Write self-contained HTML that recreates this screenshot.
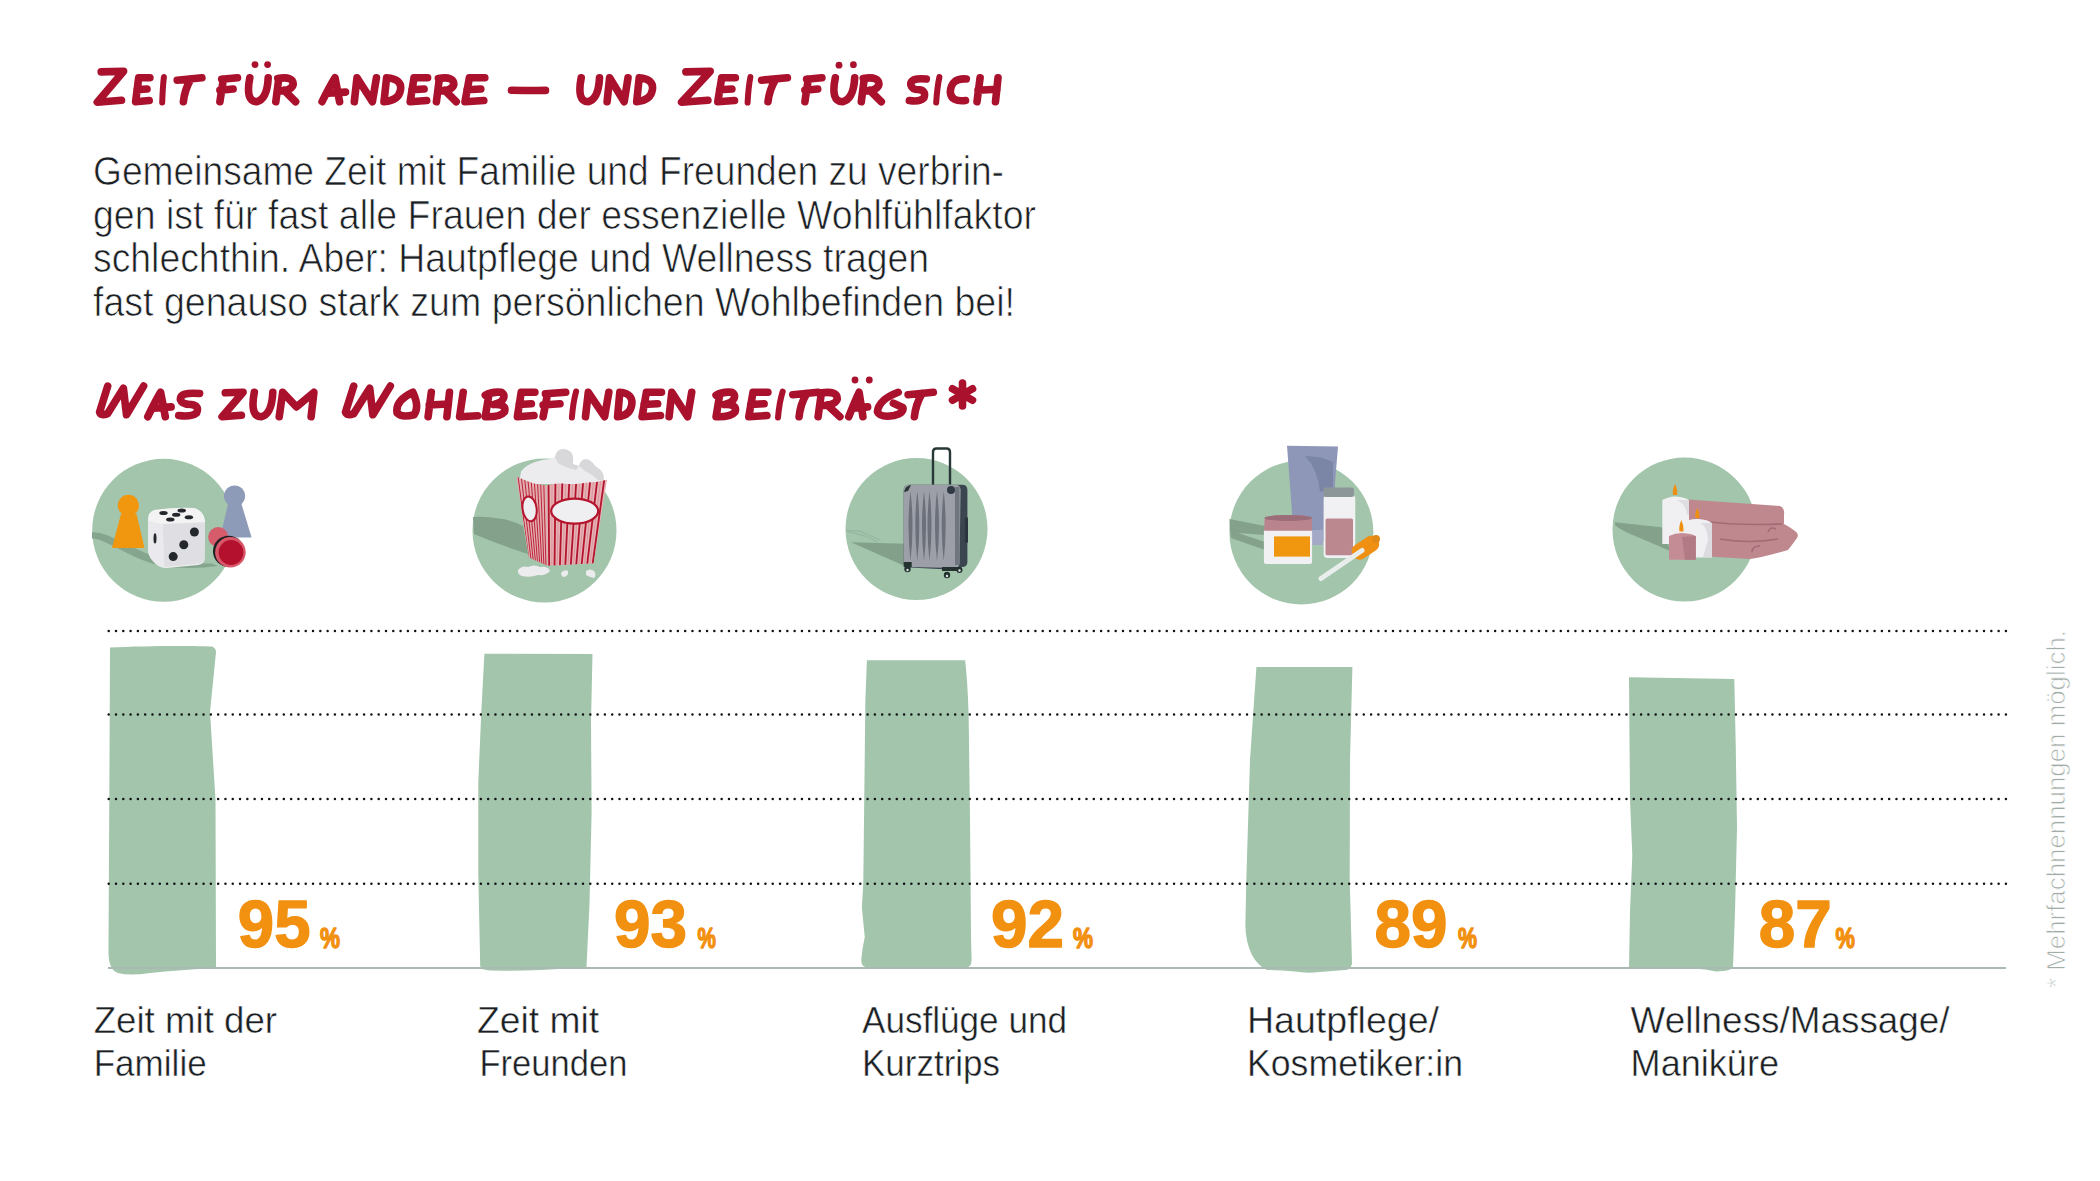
<!DOCTYPE html>
<html><head><meta charset="utf-8">
<style>
html,body{margin:0;padding:0;background:#fff;width:2100px;height:1181px;overflow:hidden}
svg{display:block}
.h{font-family:"Liberation Sans",sans-serif;font-weight:bold;font-style:italic;fill:#a9112d;stroke:#a9112d;stroke-width:2;stroke-linejoin:round}
.b{font-family:"Liberation Sans",sans-serif;font-size:40px;fill:#1b1f24;stroke:#fff;stroke-width:0.72}
.l{font-family:"Liberation Sans",sans-serif;font-size:36px;fill:#1b1f24;stroke:#fff;stroke-width:0.45}
.p{font-family:"Liberation Sans",sans-serif;font-weight:bold;fill:#f29010;stroke:#f29010;stroke-width:1.4;stroke-linejoin:round}
</style></head>
<body>
<svg width="2100" height="1181" viewBox="0 0 2100 1181">
<rect width="2100" height="1181" fill="#fff"/>

<!-- Heading 1 -->
<g id="heads">
<g fill="none" stroke="#a9112d" stroke-width="7.6" stroke-linecap="round" stroke-linejoin="round">
<path d="M 101.2,71.9 L 123.6,71.3 L 97.3,102.2 L 121.5,100.3 M 138.7,77.8 L 135.6,101.7 M 138.7,77.8 L 149.9,77.8 M 137.0,89.8 L 147.0,89.0 M 135.6,101.7 L 149.2,100.5 M 177.2,80.2 L 201.9,77.8 M 190.8,79.0 Q 184.6,89.8 183.4,101.7 M 221.7,79.2 L 237.5,77.8 M 223.4,79.2 L 219.9,101.7 M 219.9,90.2 L 233.1,89.0 M 249.8,77.8 Q 245.2,101.7 256.7,101.7 Q 267.2,99.3 268.2,77.8 M 278.8,78.3 L 275.8,101.7 M 277.8,78.5 Q 293.6,75.9 293.2,84.5 Q 291.6,90.9 277.8,90.9 M 284.1,90.2 L 295.6,101.7 M 322.1,101.7 Q 329.1,87.4 335.0,77.8 Q 337.3,89.8 339.6,101.7 M 328.0,93.3 L 345.5,92.1 M 354.3,101.7 L 357.0,77.8 L 372.4,101.7 L 376.4,77.8 M 386.6,77.8 L 384.0,101.7 M 386.6,77.8 Q 402.3,79.0 400.5,89.8 Q 398.8,100.5 384.0,101.7 M 414.0,77.8 L 410.2,101.7 M 414.0,77.8 L 427.6,77.8 M 411.9,89.8 L 424.1,89.0 M 410.2,101.7 L 426.7,100.5 M 439.4,78.3 L 436.4,101.7 M 438.4,78.5 Q 454.2,75.9 453.8,84.5 Q 452.2,90.9 438.4,90.9 M 444.7,90.2 L 456.2,101.7 M 469.4,77.8 L 465.0,101.7 M 469.4,77.8 L 484.8,77.8 M 467.0,89.8 L 480.8,89.0 M 465.0,101.7 L 483.8,100.5 M 511.4,90.2 Q 528.5,90.5 545.5,90.4 M 581.2,77.8 Q 576.6,101.7 588.1,101.7 Q 598.5,99.3 599.5,77.8 M 607.1,101.7 L 609.6,77.8 L 624.2,101.7 L 628.0,77.8 M 639.2,77.8 L 636.7,101.7 M 639.2,77.8 Q 654.0,79.0 652.4,89.8 Q 650.7,100.5 636.7,101.7 M 685.9,71.9 L 710.2,71.3 L 681.6,102.2 L 707.9,100.3 M 721.7,77.8 L 717.8,101.7 M 721.7,77.8 L 735.4,77.8 M 719.6,89.8 L 731.9,89.0 M 717.8,101.7 L 734.5,100.5 M 761.6,80.2 L 787.4,77.8 M 775.8,79.0 Q 769.3,89.8 768.0,101.7 M 806.6,79.2 L 821.9,77.8 M 808.3,79.2 L 804.9,101.7 M 804.9,90.2 L 817.7,89.0 M 835.3,77.8 Q 830.4,101.7 842.5,101.7 Q 853.6,99.3 854.7,77.8 M 864.3,78.3 L 861.3,101.7 M 863.3,78.5 Q 879.3,75.9 878.9,84.5 Q 877.3,90.9 863.3,90.9 M 869.7,90.2 L 881.3,101.7 M 926.3,79.0 Q 910.2,77.3 910.8,85.0 Q 911.9,89.8 919.5,89.8 Q 926.6,90.9 923.8,98.1 Q 919.5,102.2 909.4,100.5 M 966.3,79.0 Q 951.1,77.8 950.3,92.1 Q 951.1,102.2 965.5,100.5 M 980.1,77.8 L 977.0,101.7 M 998.0,77.8 L 995.5,101.7 M 978.0,90.2 L 997.0,89.3 "/>
<path d="M 107.7,386.1 L 99.6,412.1 Q 100.9,416.3 107.7,413.6 L 123.4,388.2 L 126.5,414.8 L 143.6,386.1 M 147.8,416.7 Q 154.8,402.1 160.6,392.3 Q 162.9,404.5 165.3,416.7 M 153.6,408.2 L 171.1,406.9 M 199.6,393.5 Q 179.7,391.8 180.4,399.6 Q 181.8,404.5 191.2,404.5 Q 200.0,405.7 196.5,413.0 Q 191.2,417.2 178.7,415.5 M 225.3,392.8 L 243.1,392.3 L 222.1,416.7 L 241.4,415.2 M 254.3,392.3 Q 249.7,416.7 261.2,416.7 Q 271.8,414.3 272.8,392.3 M 279.2,416.7 L 282.7,392.3 L 296.5,406.9 L 313.9,392.3 L 311.1,416.7 M 353.7,386.1 L 345.5,412.1 Q 346.9,416.3 353.7,413.6 L 369.7,388.2 L 372.9,414.8 L 390.3,386.1 M 412.9,392.3 Q 394.9,400.8 397.1,413.0 Q 401.6,417.9 414.1,414.7 Q 419.7,406.9 412.9,392.3 Z M 431.3,392.3 L 428.1,416.7 M 449.5,392.3 L 446.9,416.7 M 429.2,405.0 L 448.4,404.0 M 463.2,392.3 L 459.6,416.7 L 477.7,415.7 M 489.1,393.5 L 485.3,416.7 M 485.3,395.2 Q 491.7,391.3 501.3,392.3 Q 507.0,396.0 500.6,402.1 L 493.8,404.5 M 493.8,404.5 Q 507.0,404.0 504.5,411.8 Q 500.2,417.2 485.3,416.7 M 521.2,392.3 L 517.4,416.7 M 521.2,392.3 L 534.9,392.3 M 519.1,404.5 L 531.4,403.8 M 517.4,416.7 L 534.0,415.5 M 545.4,393.8 L 565.7,392.3 M 547.6,393.8 L 543.1,416.7 M 543.1,405.0 L 560.0,403.8 M 585.5,416.7 L 588.3,392.3 L 604.6,416.7 L 608.8,392.3 M 619.8,392.3 L 617.6,416.7 M 619.8,392.3 Q 633.2,393.5 631.8,404.5 Q 630.3,415.5 617.6,416.7 M 646.4,392.3 L 642.1,416.7 M 646.4,392.3 L 661.5,392.3 M 644.0,404.5 L 657.6,403.8 M 642.1,416.7 L 660.5,415.5 M 669.1,416.7 L 671.8,392.3 L 687.6,416.7 L 691.7,392.3 M 719.9,393.5 L 716.1,416.7 M 716.1,395.2 Q 722.4,391.3 731.9,392.3 Q 737.6,396.0 731.3,402.1 L 724.5,404.5 M 724.5,404.5 Q 737.6,404.0 735.1,411.8 Q 730.9,417.2 716.1,416.7 M 753.0,392.3 L 748.8,416.7 M 753.0,392.3 L 767.9,392.3 M 750.7,404.5 L 764.1,403.8 M 748.8,416.7 L 766.9,415.5 M 792.8,394.7 L 817.9,392.3 M 806.6,393.5 Q 800.3,404.5 799.1,416.7 M 821.4,392.8 L 818.1,416.7 M 820.3,393.0 Q 837.7,390.3 837.3,399.1 Q 835.5,405.7 820.3,405.7 M 827.3,405.0 L 839.9,416.7 M 848.8,416.7 Q 854.4,402.1 859.1,392.3 Q 861.0,404.5 862.9,416.7 M 853.5,408.2 L 867.6,406.9 M 898.2,392.3 Q 878.7,399.6 877.4,411.8 Q 880.1,417.9 894.0,415.5 Q 904.6,413.0 902.8,407.4 L 893.4,403.3 M 908.1,394.7 L 933.3,392.3 M 922.0,393.5 Q 915.7,404.5 914.4,416.7 "/>
<path d="M962.5,383.0 L962.5,406.0 M952.5,388.8 L972.5,400.2 M952.5,400.2 L972.5,388.8 "/>
<path stroke-width="6.0" d="M 163.9,77.0 Q 162.7,87.2 162.2,102.5 M 750.4,77.0 Q 748.4,87.2 747.6,102.5 M 939.4,77.0 Q 937.2,87.2 936.2,102.5  M 576.1,391.5 Q 573.2,401.9 571.9,417.5 M 782.7,391.5 Q 779.4,401.9 778.0,417.5 "/>
</g>
<g fill="#a9112d"><circle cx="839" cy="65.2" r="3.4"/><circle cx="853.4" cy="64.7" r="3.4"/><circle cx="255" cy="64.6" r="3.4"/><circle cx="267.6" cy="64.6" r="3.4"/><circle cx="855" cy="380" r="3.4"/><circle cx="869.3" cy="380" r="3.4"/></g>
</g>

<!-- Body -->
<text class="b" x="93" y="185" textLength="911" lengthAdjust="spacingAndGlyphs">Gemeinsame Zeit mit Familie und Freunden zu verbrin-</text>
<text class="b" x="93" y="228.5" textLength="943" lengthAdjust="spacingAndGlyphs">gen ist für fast alle Frauen der essenzielle Wohlfühlfaktor</text>
<text class="b" x="93" y="272" textLength="836" lengthAdjust="spacingAndGlyphs">schlechthin. Aber: Hautpflege und Wellness tragen</text>
<text class="b" x="93" y="316" textLength="922" lengthAdjust="spacingAndGlyphs">fast genauso stark zum persönlichen Wohlbefinden bei!</text>

<!-- Heading 2 -->


<!-- ICONS -->
<g id="icons">
<!-- ICON 1: board game -->
<circle cx="163.7" cy="530.3" r="71.5" fill="#a2c5ac"/>
<path d="M92,532 Q100,532 108,535.5 Q120,541 130,546 Q145,553 160,559 Q190,564 212,563.5 L218,566 Q190,570 160,566 Q140,560 125,552 Q112,545 100,540 Q95,538.5 92,538.5 Z" fill="#86a58e"/>
<path d="M121,514 L136.5,514 L144.5,548 L112,548 Z" fill="#f1960f"/>
<circle cx="128.4" cy="505.4" r="10.6" fill="#f1960f"/>
<path d="M228,504 L241.5,504 L251.6,537.6 L220.2,537.6 Z" fill="#8e9bb8"/>
<circle cx="234.6" cy="496" r="10.6" fill="#8e9bb8"/>
<!-- dice -->
<path d="M148,520 Q148,512 154,510 Q175,507 194,508 Q203,510 205,520 L204.5,560 Q204,564 198,565 L166,568 Q158,568 152,560 Q148,556 148,548 Z" fill="#f3f3f4"/>
<path d="M148,521 L162.6,524 L164.4,567.2 Q156,566 151,558 Q148,553 148,545 Z" fill="#eaeaee"/>
<path d="M162.6,524 L205,522.3 L204.5,559 Q204,563 198,564 L164.4,567.2 Z" fill="#dedee3"/>
<g fill="#24282c">
<ellipse cx="163.5" cy="513" rx="4.2" ry="2"/>
<ellipse cx="181.7" cy="510.5" rx="4.2" ry="2"/>
<ellipse cx="176.2" cy="514.7" rx="4.2" ry="2"/>
<ellipse cx="170.3" cy="519.4" rx="4.2" ry="2"/>
<ellipse cx="188.9" cy="517.3" rx="4.2" ry="2"/>
<ellipse cx="155" cy="538.4" rx="1.5" ry="5.2"/>
<circle cx="194.4" cy="532" r="4.5"/>
<circle cx="183.8" cy="544.8" r="4.5"/>
<circle cx="173.2" cy="556.6" r="4.5"/>
</g>
<!-- checker -->
<circle cx="218.2" cy="537" r="10" fill="#d65b6b"/>
<circle cx="228.6" cy="551.3" r="15.6" fill="#1e1e22"/>
<circle cx="230.4" cy="552.3" r="15.3" fill="#d8586a"/>
<circle cx="231" cy="552.5" r="12.4" fill="#b3112e"/>

<!-- ICON 2: popcorn -->
<circle cx="544.5" cy="530.6" r="72" fill="#a2c5ac"/>
<path d="M473,517 Q485,516 499,518.5 Q512,520 523,526 L528,554 Q500,545 474,534 Z" fill="#84a28b"/>
<path d="M519,484 L521,471.4 Q526,465 535,462 Q543,459 551,458.9 L556,455.7 L560.3,449.4 Q566,449 571.8,453 L572.9,464 L579,466 L582.3,460 Q585,458.5 588.6,459.4 L596,467.2 L603,474 L605,484 Z" fill="#ececee"/>
<path d="M555,457 Q556,451 560.3,449.4 Q567,448 571.8,453 Q574,458 572.9,464 Q576,465 579,466 L576,470 Q566,468 558,463 Z" fill="#d8d8db"/>
<path d="M579,466 Q580,461 584,459.5 Q589,458.5 592,462 Q595,466 598,468 Q603,471 603.5,476 L604,481 L598,480 Q592,474 585,471 Z" fill="#d8d8db"/>
<defs>
<clipPath id="pcL"><path d="M516.3,476.7 L533.6,483.5 L546.2,485.6 L547.4,565.7 L529,557.4 Z"/></clipPath>
<clipPath id="pcF"><path d="M546.2,485.6 Q554,483 562.4,483.5 Q571,484.5 580.7,483.5 Q588,482 596.4,482 L607,479.8 L593.7,563.3 L547.4,565.7 Z"/></clipPath>
</defs>
<path d="M516.3,476.7 L533.6,483.5 L546.2,485.6 L547.4,565.7 L529,557.4 Z" fill="#e2adb1"/>
<path d="M546.2,485.6 Q554,483 562.4,483.5 Q571,484.5 580.7,483.5 Q588,482 596.4,482 L607,479.8 L593.7,563.3 L547.4,565.7 Z" fill="#e5b2b5"/>
<g stroke="#bc2437" stroke-width="1.0" fill="none" clip-path="url(#pcL)"><path d="M518.0,476 L530.0,568"/><path d="M521.2,476 L532.0,568"/><path d="M524.4,476 L534.0,568"/><path d="M527.6,476 L536.0,568"/><path d="M530.8,476 L538.0,568"/><path d="M534.0,476 L540.0,568"/><path d="M537.2,476 L542.0,568"/><path d="M540.4,476 L544.0,568"/><path d="M543.6,476 L546.0,568"/></g>
<g fill="none" clip-path="url(#pcF)">
<g stroke="#d68a90" stroke-width="0.7"><path d="M552.0,478 L551.8,570"/><path d="M559.0,478 L557.1,570"/><path d="M566.0,478 L562.5,570"/><path d="M573.0,478 L567.8,570"/><path d="M580.0,478 L573.1,570"/><path d="M587.0,478 L578.5,570"/><path d="M594.0,478 L583.8,570"/><path d="M601.0,478 L589.1,570"/></g>
<g stroke="#b3132c" stroke-width="1.8"><path d="M548.5,478 L549.2,570"/><path d="M555.5,478 L554.5,570"/><path d="M562.5,478 L559.8,570"/><path d="M569.5,478 L565.1,570"/><path d="M576.5,478 L570.5,570"/><path d="M583.5,478 L575.8,570"/><path d="M590.5,478 L581.1,570"/><path d="M597.5,478 L586.5,570"/><path d="M604.5,478 L591.8,570"/></g>
</g>
<ellipse cx="574.7" cy="511.1" rx="23.5" ry="12.5" fill="#efeff1" stroke="#b5142d" stroke-width="2.2"/>
<ellipse cx="529.6" cy="508.8" rx="7" ry="12.5" fill="#efeff1" stroke="#b5142d" stroke-width="2" transform="rotate(-8 529.6 508.8)"/>
<g fill="#ececef">
<path d="M518,570 Q522,565 528,567 Q534,564 540,567 Q548,566 550,571 Q546,576 538,575 Q530,578 522,576 Q517,574 518,570 Z"/>
<path d="M561,573 Q564,569 568,571 Q569,576 564,577 Q561,576 561,573 Z"/>
<path d="M586,571 Q590,568 594,571 Q597,575 594,578 Q589,577 586,575 Z"/>
</g>

<!-- ICON 3: suitcase -->
<circle cx="916.5" cy="529" r="71" fill="#a2c5ac"/>
<path d="M851,542.3 L904.6,543.8 L904.6,566 Z" fill="#83a18a"/>
<path d="M846,530.7 L860,531 L880.3,540.2 M848,531.5 L865,536 L878,542" fill="none" stroke="#8fb09b" stroke-width="0.9"/>
<path d="M933,484.7 L933,452 Q933,448.5 936.5,448.5 L946.5,448.5 Q950,448.5 950,452 L950,484.7" fill="none" stroke="#273836" stroke-width="2.4"/>
<path d="M903.7,490 Q903.7,484.7 909,484.7 L962,484.7 Q967.4,484.7 967.4,490 L967.4,562 Q967.4,567 962,567 L959,570 L909,567.4 Q903.7,567.4 903.7,562 Z" fill="#3b4550"/>
<path d="M903.7,490 Q903.7,484.7 909,484.7 L955,484.7 Q960.6,484.7 960.6,490 L959.5,563 Q959.5,568 954,568 L909,567 Q903.7,567 903.7,562 Z" fill="#9c9fa7"/>
<g fill="#6b707b"><path d="M910.5,491 Q914.5,526 910.5,561 Q906.5,526 910.5,491 Z"/><path d="M917.3,491 Q921.3,526 917.3,561 Q913.3,526 917.3,491 Z"/><path d="M924,491 Q928,526 924,561 Q920,526 924,491 Z"/><path d="M929.5,491 Q933.5,526 929.5,561 Q925.5,526 929.5,491 Z"/><path d="M937,491 Q941,526 937,561 Q933,526 937,491 Z"/><path d="M943.7,491 Q947.7,526 943.7,561 Q939.7,526 943.7,491 Z"/></g><rect x="955" y="487" width="4.5" height="78" fill="#70767e"/>
<path d="M904,492 Q905,486 911,485 L908,491 Z" fill="#273836"/>
<circle cx="951" cy="490" r="4" fill="#2f3944"/>
<rect x="965" y="517" width="3" height="26" rx="1.5" fill="#2b3540"/>
<g fill="#243230">
<circle cx="907.5" cy="569" r="3.2"/><circle cx="947" cy="575" r="3.2"/><circle cx="959.5" cy="570" r="3"/>
<rect x="903.7" y="562" width="8" height="5"/><rect x="942" y="567" width="18" height="4"/>
</g>
<g fill="#dfe7e3"><circle cx="907.5" cy="570" r="1.2"/><circle cx="947" cy="576" r="1.2"/><circle cx="959.5" cy="570.5" r="1.2"/></g>

<!-- ICON 4: cosmetics -->
<circle cx="1301.4" cy="532.5" r="72" fill="#a2c5ac"/>
<path d="M1229.4,519 L1265,526 L1265,535 L1238,533 L1265,542 L1265,550 L1231,538 Q1229.5,530 1229.4,519 Z" fill="#84a28b"/>
<path d="M1287,445.8 L1338,446.5 L1335,483 L1336,540 L1292,545 L1292,512 Z" fill="#8e97b8"/>
<path d="M1305,456 Q1322,456 1333,462 L1333,487 L1320,492 Q1318,470 1305,456 Z" fill="#7b86a7"/>
<path d="M1292,530 L1323,530 L1323,545 L1292,545 Z" fill="#a4a9c7"/>
<rect x="1263.9" y="529" width="48.2" height="35" rx="2" fill="#f1f1f3"/>
<rect x="1274" y="536.4" width="36" height="20.2" fill="#f0960f"/>
<path d="M1264.6,519 Q1264.6,515 1288,515 Q1312,515 1312,519 L1312,530.7 L1264.2,530.7 Z" fill="#b9848e"/>
<ellipse cx="1288.2" cy="518" rx="23.8" ry="3" fill="#9a6d79"/>
<rect x="1323.6" y="495" width="31.7" height="63" rx="4" fill="#f1f1f3"/>
<rect x="1325.5" y="518.5" width="27.5" height="36.7" rx="1.5" fill="#bb8890"/>
<rect x="1323.6" y="487.5" width="30.3" height="9.4" rx="2" fill="#8c9698"/>
<rect x="-14" y="-8" width="29" height="16" rx="7" fill="#ef9012" transform="translate(1365,548) rotate(-34)"/>
<circle cx="1376" cy="539" r="4" fill="#e08916"/>
<path d="M1321,578.5 L1362,550.5" stroke="#e9eeec" stroke-width="5" stroke-linecap="round"/>

<!-- ICON 5: candles & towels -->
<circle cx="1684.5" cy="529.6" r="72" fill="#a2c5ac"/>
<path d="M1615,522.3 L1663,527.6 L1670,551 L1640,538 Q1620,530 1615,525 Z" fill="#84a28b"/>
<path d="M1688,499.5 L1780,506 Q1785,508 1784,515 L1784,524 Q1790,527 1795,531 Q1799.5,534 1797,538 Q1792,545 1788,550 Q1760,558 1750,559 L1700,556 L1688,540 Z" fill="#bf888f"/>
<g stroke="#a16c76" stroke-width="1.6" fill="none">
<path d="M1700,521 Q1740,526 1782,524"/>
<path d="M1720,539 Q1750,544 1778,539"/>
<path d="M1768,532 Q1770,526 1776,529"/>
<path d="M1752,552 Q1752,546 1760,546"/>
</g>
<path d="M1662.3,500 Q1670,496 1676,496.5 Q1685,497 1689,500 L1689,544 L1662.3,544 Z" fill="#f0f0f2"/>
<path d="M1676,500 Q1686,503 1687,515 L1689,515 L1689,500 Z" fill="#dedee2"/>
<path d="M1685,522 Q1690,518.5 1698,519 Q1708,519.5 1711.9,523 L1711.9,557.4 L1685,557.4 Z" fill="#f0f0f2"/>
<path d="M1700,523 Q1708,527 1708,540 L1703,557 L1711.9,557.4 L1711.9,523 Z" fill="#dcdce0"/>
<path d="M1669,536 Q1675,533 1682,533 Q1692,533.5 1695.8,536 L1695.8,559.7 L1669,559.7 Z" fill="#c48c94"/>
<path d="M1682,537 L1695.8,536 L1695.8,559.7 L1685,559.7 Z" fill="#b27a85"/>
<g fill="#ef8f12">
<path d="M1675,484 Q1678,490 1677,495 L1673,495 Q1672,490 1675,484 Z"/>
<path d="M1697.4,508 Q1700,513 1699.5,518 L1695.5,518 Q1694.5,513 1697.4,508 Z"/>
<path d="M1681.4,520 Q1684,526 1683.5,531.5 L1679.5,531.5 Q1678.5,526 1681.4,520 Z"/>
</g>
</g>

<!-- Bars -->
<g fill="#a2c5ac">
<path d="M110,647.5 C140,646 190,645.5 212,646.5 Q216,648 216,652 L210,712 L215.5,800 L216,968 Q180,970 150,973 Q130,976 118,973 Q108,970 108.5,950 L109.5,760 Z"/>
<path d="M484.4,653.8 L592.5,654 L591,721 L591.6,813 L589.5,904 L586.5,967 Q570,968.5 540,970 Q513,971 490,970.5 Q481,970 480.2,966 L478.3,873 L478.3,782 L481.3,712 Z"/>
<path d="M866.9,660.2 L965.1,660.2 Q967.5,680 968.6,714 L970,818 L971,936 L971.6,960 Q971.6,968 964,968 L870,968 Q861,968 861.3,960 Q862,950 864.8,937 Q863,920 861.9,907 L863.3,883 L865.4,699 Z"/>
<path d="M1256.4,667 L1352.4,667 L1350,760 L1349.7,880 L1351,926 L1352,964 Q1350,970 1345,970 Q1332,971 1320,972 Q1306,973.5 1295,971.5 Q1280,970 1267,970 Q1258,966 1252,955 Q1245.5,942 1245.4,925 L1246.3,880 L1250,760 Z"/>
<path d="M1629,677.3 L1734.3,679 L1735.7,743.8 L1737,827.6 L1735,911.4 L1733,967 Q1731,971.5 1716,971.4 Q1705,969 1693.8,968.6 L1629,967.5 L1630,911.4 L1632.3,855.5 L1630,799.7 Z"/>
</g>

<!-- Baseline -->
<rect x="108" y="967" width="1898" height="2" fill="#a8bab1"/>

<!-- Dotted lines -->
<g stroke="#111" stroke-width="2.5" stroke-linecap="round" stroke-dasharray="0 7.297">
<line x1="108.7" y1="631" x2="2006.5" y2="631"/>
<line x1="108.7" y1="714.4" x2="2006.5" y2="714.4"/>
<line x1="108.7" y1="799" x2="2006.5" y2="799"/>
<line x1="108.7" y1="883.8" x2="2006.5" y2="883.8"/>
</g>

<!-- Percents -->
<g class="p">
<text x="237.8" y="947" font-size="66" textLength="72.7" lengthAdjust="spacingAndGlyphs">95</text>
<text x="320" y="947.8" font-size="29" textLength="20" lengthAdjust="spacingAndGlyphs">%</text>
<text x="614" y="947" font-size="66" textLength="73" lengthAdjust="spacingAndGlyphs">93</text>
<text x="697.6" y="947.8" font-size="29" textLength="18.4" lengthAdjust="spacingAndGlyphs">%</text>
<text x="991" y="947" font-size="66" textLength="73" lengthAdjust="spacingAndGlyphs">92</text>
<text x="1073" y="947.8" font-size="29" textLength="20" lengthAdjust="spacingAndGlyphs">%</text>
<text x="1374.4" y="947" font-size="66" textLength="73" lengthAdjust="spacingAndGlyphs">89</text>
<text x="1458" y="947.8" font-size="29" textLength="19" lengthAdjust="spacingAndGlyphs">%</text>
<text x="1758.8" y="947" font-size="66" textLength="73" lengthAdjust="spacingAndGlyphs">87</text>
<text x="1835.6" y="947.8" font-size="29" textLength="19.4" lengthAdjust="spacingAndGlyphs">%</text>
</g>

<!-- Labels -->
<g class="l">
<text x="93.7" y="1032.7" textLength="183.3" lengthAdjust="spacingAndGlyphs">Zeit mit der</text>
<text x="93.7" y="1076" textLength="113" lengthAdjust="spacingAndGlyphs">Familie</text>
<text x="477" y="1032.7" textLength="122" lengthAdjust="spacingAndGlyphs">Zeit mit</text>
<text x="479.4" y="1076" textLength="148" lengthAdjust="spacingAndGlyphs">Freunden</text>
<text x="862" y="1032.7" textLength="205" lengthAdjust="spacingAndGlyphs">Ausflüge und</text>
<text x="862" y="1076" textLength="138" lengthAdjust="spacingAndGlyphs">Kurztrips</text>
<text x="1247" y="1032.7" textLength="192" lengthAdjust="spacingAndGlyphs">Hautpflege/</text>
<text x="1247" y="1076" textLength="216" lengthAdjust="spacingAndGlyphs">Kosmetiker:in</text>
<text x="1630.6" y="1032.7" textLength="319" lengthAdjust="spacingAndGlyphs">Wellness/Massage/</text>
<text x="1630.6" y="1076" textLength="148.4" lengthAdjust="spacingAndGlyphs">Maniküre</text>
</g>

<!-- Footnote -->
<text transform="translate(2065,988) rotate(-90)" x="0" y="0" font-family="Liberation Sans, sans-serif" font-size="25" fill="#a3ada8" stroke="#fff" stroke-width="0.8" textLength="358" lengthAdjust="spacingAndGlyphs">* Mehrfachnennungen möglich.</text>

</svg>
</body></html>
